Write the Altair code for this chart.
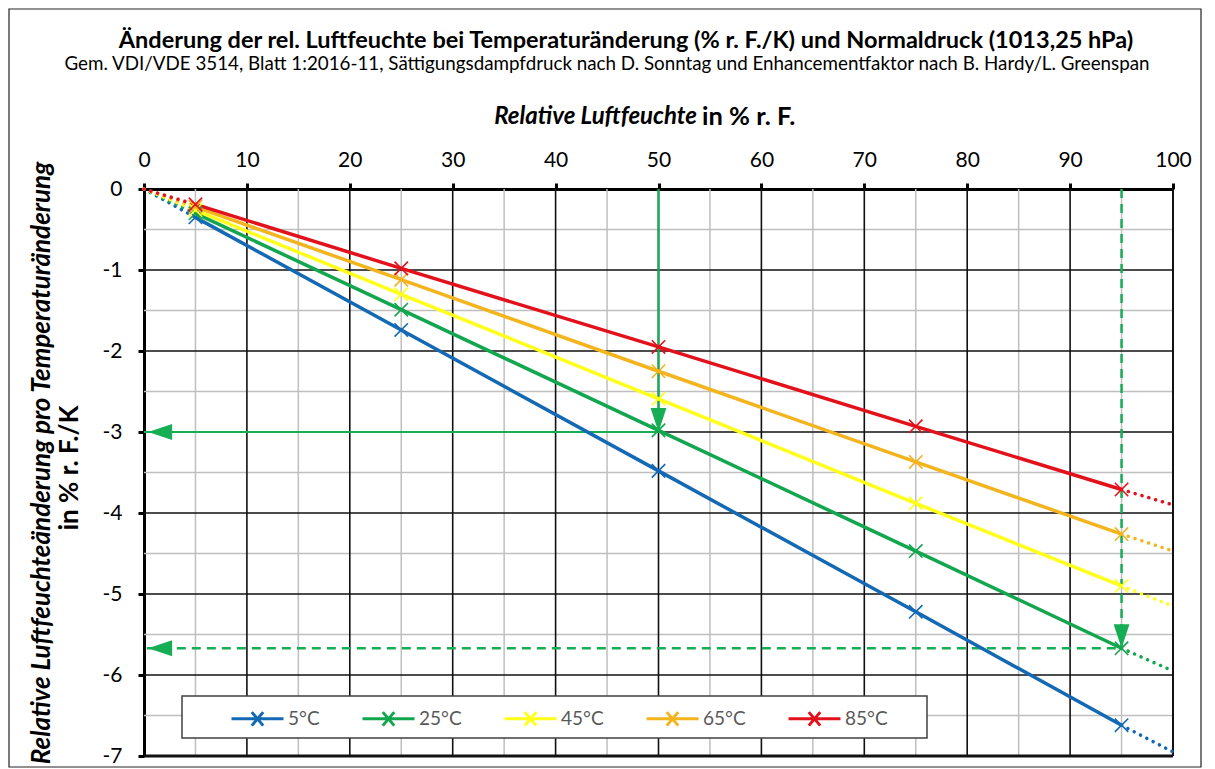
import altair as alt
import pandas as pd

# ---------------- data ----------------
rh = [5, 25, 50, 75, 95]
temps = ["5°C", "25°C", "45°C", "65°C", "85°C"]
colors = ["#1469B5", "#12A64E", "#FFFF1A", "#F4B41E", "#E2111B"]
values = {
    "5°C":  [-0.35, -1.74, -3.48, -5.22, -6.62],
    "25°C": [-0.30, -1.49, -2.98, -4.47, -5.67],
    "45°C": [-0.26, -1.30, -2.59, -3.88, -4.90],
    "65°C": [-0.22, -1.12, -2.25, -3.37, -4.26],
    "85°C": [-0.19, -0.98, -1.95, -2.93, -3.71],
}
rh_start = 0
rh_end = 100
start_values = [0, 0, 0, 0, 0]
end_values = [-6.95, -5.95, -5.15, -4.47, -3.90]

x_ticks = list(range(0, 101, 10))
y_ticks = list(range(0, -8, -1))
x_major = [10, 20, 30, 40, 50, 60, 70, 80, 90]
x_minor = [5, 15, 25, 35, 45, 55, 65, 75, 85, 95]
y_major = [-1, -2, -3, -4, -5, -6]
y_minor = [-0.5, -1.5, -2.5, -3.5, -4.5, -5.5, -6.5]

# reading example (arrows)
ex1_rh, ex1_val = 50, -3.0
ex2_rh, ex2_val = 95, -5.67
arrow_tip_x = 0.4

title_text = "Änderung der rel. Luftfeuchte bei Temperaturänderung (% r. F./K) und Normaldruck (1013,25 hPa)"
subtitle_text = ("Gem. VDI/VDE 3514, Blatt 1:2016-11, Sättigungsdampfdruck nach D. Sonntag "
                 "und Enhancementfaktor nach B. Hardy/L. Greenspan")
xtitle_a = "Relative Luftfeuchte"
xtitle_b = "in % r. F."
ytitle_a = "Relative Luftfeuchteänderung pro Temperaturänderung"
ytitle_b = "in % r. F./K"

# ---------------- tables ----------------
rows = []
for t in temps:
    for x, v in zip(rh, values[t]):
        rows.append({"x": x, "y": v, "T": t})
df_lines = pd.DataFrame(rows)

ext = []
for i, t in enumerate(temps):
    ext.append({"x": rh_start, "y": start_values[i], "T": t, "seg": t + "a"})
    ext.append({"x": rh[0], "y": values[t][0], "T": t, "seg": t + "a"})
    ext.append({"x": rh[-1], "y": values[t][-1], "T": t, "seg": t + "b"})
    ext.append({"x": rh_end, "y": end_values[i], "T": t, "seg": t + "b"})
df_ext = pd.DataFrame(ext)

df_ann_solid = pd.DataFrame({"x": [ex1_rh, ex1_rh, 0], "y": [0, ex1_val, ex1_val], "o": [0, 1, 2]})
df_ann_dash = pd.DataFrame({"x": [ex2_rh, ex2_rh, 0], "y": [0, ex2_val, ex2_val], "o": [0, 1, 2]})
df_tip_down = pd.DataFrame({"x": [ex1_rh, ex2_rh], "y": [ex1_val, ex2_val]})
df_tip_left = pd.DataFrame({"x": [arrow_tip_x, arrow_tip_x], "y": [ex1_val, ex2_val]})

one = pd.DataFrame({"a": [0]})

W, H = 1029, 567
PAD_T = 181
PAD_B = 14
FONT = "Lato"

# ---------------- encodings ----------------
xaxis = alt.Axis(orient="top", values=x_ticks, title=None, grid=False,
                 domain=True, domainColor="black", domainWidth=3,
                 ticks=True, tickColor="black", tickWidth=3, tickSize=6,
                 labelFont=FONT, labelFontSize=21, labelColor="black",
                 labelPadding=13, labelFlush=False, labelOverlap=False)
yaxis = alt.Axis(orient="left", values=y_ticks, title=None, grid=False,
                 domain=True, domainColor="black", domainWidth=3,
                 ticks=True, tickColor="black", tickWidth=3, tickSize=6,
                 labelFont=FONT, labelFontSize=21, labelColor="black",
                 labelPadding=16, labelFlush=False, labelOverlap=False,
                 labelExpr="datum.value == 0 ? '0' : '-' + abs(datum.value)")
xs = alt.Scale(domain=[0, 100], nice=False, zero=False)
ys = alt.Scale(domain=[-7, 0], nice=False, zero=False)


def X(f="x"):
    return alt.X(f"{f}:Q", scale=xs, axis=xaxis)


def Y(f="y"):
    return alt.Y(f"{f}:Q", scale=ys, axis=yaxis)


legend = alt.Legend(orient="none", legendX=86, legendY=502, direction="horizontal",
                    columns=5, title=None,
                    symbolType="M-1,0L1,0M-0.22,-0.26L0.22,0.26M-0.22,0.26L0.22,-0.26",
                    symbolSize=2704, symbolStrokeWidth=3,
                    labelFont=FONT, labelFontSize=19, labelColor="#595959",
                    labelOffset=3, columnPadding=36, padding=0)
color = alt.Color("T:N", scale=alt.Scale(domain=temps, range=colors), legend=legend)

# ---------------- layers ----------------
minor_v = alt.Chart(pd.DataFrame({"x": x_minor})).mark_rule(color="#BFBFBF", strokeWidth=1.5).encode(x=X())
minor_h = alt.Chart(pd.DataFrame({"y": y_minor})).mark_rule(color="#BFBFBF", strokeWidth=1.5).encode(y=Y())
major_v = alt.Chart(pd.DataFrame({"x": x_major})).mark_rule(color="#111111", strokeWidth=1.6).encode(x=X())
major_h = alt.Chart(pd.DataFrame({"y": y_major})).mark_rule(color="#111111", strokeWidth=1.6).encode(y=Y())
edge_r = alt.Chart(pd.DataFrame({"x": [100]})).mark_rule(color="#111111", strokeWidth=2).encode(x=X())
edge_b = alt.Chart(pd.DataFrame({"y": [-7]})).mark_rule(color="#111111", strokeWidth=3).encode(y=Y())

ann_solid = alt.Chart(df_ann_solid).mark_line(color="#16AE55", strokeWidth=2.2).encode(
    x=X(), y=Y(), order="o:Q")
ann_dash = alt.Chart(df_ann_dash).mark_line(color="#16AE55", strokeWidth=2.5, strokeDash=[9, 6]).encode(
    x=X(), y=Y(), order="o:Q")

ext_lines = alt.Chart(df_ext).mark_line(strokeWidth=3.5, strokeDash=[0.1, 7], strokeCap="round").encode(
    x=X(), y=Y(), color=color, detail="seg:N")
lines = alt.Chart(df_lines).mark_line(strokeWidth=3.5).encode(x=X(), y=Y(), color=color)
marks = alt.Chart(df_lines).mark_point(shape="M-1,-1L1,1M-1,1L1,-1", size=180, filled=False,
                                       strokeWidth=1.6, opacity=1).encode(x=X(), y=Y(), color=color)

tip_down = alt.Chart(df_tip_down).mark_point(shape="M0,0L-0.66,-2L0.66,-2Z", size=576, filled=True,
                                             color="#16AE55", opacity=1).encode(x=X(), y=Y())
tip_left = alt.Chart(df_tip_left).mark_point(shape="M0,0L2,-0.66L2,0.66Z", size=576, filled=True,
                                             color="#16AE55", opacity=1).encode(x=X(), y=Y())

legend_box = alt.Chart(one).mark_rect(fill="white", stroke="#404040", strokeWidth=1.5).encode(
    x=alt.value(38), x2=alt.value(783), y=alt.value(507), y2=alt.value(549))

t_title = alt.Chart(one).mark_text(text=title_text, font=FONT, fontSize=23.5, fontWeight="bold",
                                   color="black", align="center", baseline="middle").encode(
    x=alt.value(482), y=alt.value(-148))
t_sub = alt.Chart(one).mark_text(text=subtitle_text, font=FONT, fontSize=18.8, color="black",
                                 align="center", baseline="middle").encode(
    x=alt.value(463), y=alt.value(-125))
t_xa = alt.Chart(one).mark_text(text=xtitle_a, font=FONT, fontSize=24, fontWeight="bold",
                                fontStyle="italic", color="black", align="right",
                                baseline="middle").encode(x=alt.value(553), y=alt.value(-72))
t_xb = alt.Chart(one).mark_text(text=xtitle_b, font=FONT, fontSize=25.5, fontWeight="bold",
                                color="black", align="left", baseline="middle").encode(
    x=alt.value(558), y=alt.value(-72))
t_ya = alt.Chart(one).mark_text(text=ytitle_a, font=FONT, fontSize=26, fontWeight="bold",
                                fontStyle="italic", color="black", align="center",
                                baseline="middle", angle=270).encode(
    x=alt.value(-102), y=alt.value(274))
t_yb = alt.Chart(one).mark_text(text=ytitle_b, font=FONT, fontSize=26, fontWeight="bold",
                                color="black", align="center", baseline="middle", angle=270).encode(
    x=alt.value(-74), y=alt.value(279))

outer = alt.Chart(one).mark_rect(fill=None, stroke="#222222", strokeWidth=1.2).encode(
    x=alt.value(-135), x2=alt.value(W + 28), y=alt.value(-PAD_T + 1), y2=alt.value(H + 11))

chart = alt.layer(
    minor_v, minor_h, major_v, major_h, edge_r, edge_b,
    ann_solid, ann_dash, ext_lines, lines, marks, tip_down, tip_left,
    legend_box, t_title, t_sub, t_xa, t_xb, t_ya, t_yb, outer,
).properties(
    width=W, height=H,
    padding={"left": 136, "top": PAD_T, "right": 30, "bottom": PAD_B},
    autosize=alt.AutoSizeParams(type="none"),
    background="white",
).configure_view(stroke=None)

chart.save("out.html", embed_options={"renderer": "svg", "actions": False})
